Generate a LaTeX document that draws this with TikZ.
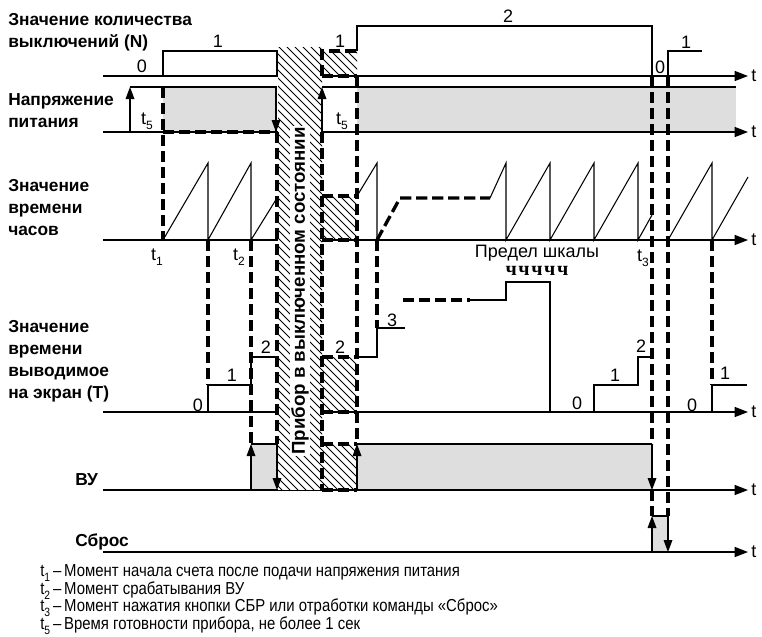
\documentclass[tikz,border=0pt]{standalone}
\usepackage{fontspec}
\setmainfont{Liberation Sans}
\newfontfamily\narrowfont[FakeStretch=0.86]{Liberation Sans}
\newfontfamily\serifb[LetterSpace=8]{Liberation Serif}
\usetikzlibrary{arrows.meta}
\newcommand\tsub[1]{t\raisebox{-0.28em}{\fontsize{9}{9}\selectfont #1}}
\newcommand\hatchbox[4]{%
  \begin{scope}
    \clip (#1,#2) rectangle (#3,#4);
    \foreach \c in {-520,-512,...,360} \draw[hl] ({\c},0) -- ({\c+636},636);
  \end{scope}}
\begin{document}
\begin{tikzpicture}[x=0.75pt,y=-0.75pt,
 axis/.style={line width=1pt,-{Triangle[length=10pt,width=7.5pt]}},
 sig/.style={line width=0.8pt},
 hl/.style={line width=0.55pt},
 dsh/.style={line width=2.5pt,dash pattern=on 8.5pt off 3.5pt},
 varrow/.style={line width=0.9pt,-{Triangle[length=9pt,width=6.5pt]}},
 lbl/.style={font=\fontsize{13}{16.5}\selectfont\bfseries,align=left,anchor=west,inner sep=0pt},
 num/.style={font=\fontsize{13.5}{14}\selectfont,inner sep=0pt},
 leg/.style={font=\narrowfont\fontsize{13}{14}\selectfont,anchor=west,inner sep=0pt},
 shade/.style={fill=black!13},
 ]
\useasboundingbox (0,0) rectangle (762,636);
% gray fills
\fill[shade] (163,87) rectangle (277,132);
\fill[shade] (357,87) rectangle (736,132);
\fill[shade] (251,444) rectangle (277,490);
\fill[shade] (357,444) rectangle (652,490);
\fill[shade] (652,516) rectangle (668,552);
% axes
\foreach \yy/\nm in {76/a,132/b,240/c,412/d,490/e,552/f}{
  \draw[axis] (103,\yy) -- (748,\yy);
  \node[num,anchor=west] (t\nm) at (751,\yy) {t};
}
% off-state band
\fill[white] (278,47) rectangle (322,490);
\hatchbox{278}{47}{322}{490}
% hatched boxes
\hatchbox{322}{51}{357}{76}
\hatchbox{322}{196}{357}{240}
\hatchbox{322}{357}{357}{412}
\hatchbox{322}{444}{357}{490}
% power
\draw[line width=1.8pt] (130,87) -- (277,87);
\draw[line width=1.8pt] (322,87) -- (736,87);
\draw[varrow] (130,132) -- (130,87);
\draw[varrow] (276,87) -- (276,132);
\draw[varrow] (322,132) -- (322,87);
\draw[dsh] (163,87) -- (163,240);
\draw[dsh] (163,132) -- (277,132);
% N signal
\draw[sig] (163,76) -- (163,51) -- (277,51) -- (277,76);
\draw[sig] (357,51) -- (357,26) -- (652,26) -- (652,76);
\draw[sig] (668,76) -- (668,51) -- (702,51);
\draw[dsh] (322,76) -- (322,51) -- (357,51);
\draw[dsh] (322,76) -- (357,76);
% clock
\draw[sig] (163,240) -- (208,163) -- (208,240) -- (251,163) -- (251,240) -- (277,198);
\draw[sig] (357,196) -- (377,163) -- (377,240);
\draw[dsh] (322,196) -- (357,196);
\draw[dsh] (322,240) -- (357,240);
\draw[dsh] (377,240) -- (400,198) -- (490,198);
\draw[sig] (490,198) -- (506,163) -- (506,240) -- (550,163) -- (550,240) -- (594,163) -- (594,240) -- (638,163) -- (638,240) -- (652,215);
\draw[sig] (668,240) -- (712,163) -- (712,240) -- (748,177);
% display
\draw[sig] (208,412) -- (208,385) -- (251,385) -- (251,357) -- (277,357);
\draw[dsh] (322,357) -- (357,357);
\draw[dsh] (322,412) -- (357,412);
\draw[sig] (357,357) -- (377,357) -- (377,328) -- (405,328);
\draw[dsh] (403,300) -- (470,300);
\draw[sig] (470,300) -- (506,300) -- (506,282) -- (550,282) -- (550,412);
\draw[sig] (594,412) -- (594,385) -- (638,385) -- (638,357) -- (652,357);
\draw[sig] (712,412) -- (712,385) -- (747,385);
% VU
\draw[sig] (251,444) -- (277,444);
\draw[varrow] (251,490) -- (251,444);
\draw[varrow] (277,444) -- (277,490);
\draw[dsh] (322,444) -- (357,444);
\draw[dsh] (322,490) -- (357,490);
\draw[sig] (357,444) -- (652,444);
\draw[varrow] (357,490) -- (357,444);
\draw[varrow] (652,444) -- (652,490);
% reset
\draw[sig] (652,516) -- (668,516);
\draw[varrow] (652,552) -- (652,516);
\draw[varrow] (668,516) -- (668,552);
% dashed verticals
\draw[dsh] (208,240) -- (208,385);
\draw[dsh] (251,240) -- (251,444);
\draw[dsh] (277,132) -- (277,444);
\draw[dsh] (322,132) -- (322,490);
\draw[dsh] (357,76) -- (357,444);
\draw[dsh] (377,240) -- (377,328);
\draw[dsh] (652,76) -- (652,444);
\draw[dsh] (652,490) -- (652,516);
\draw[dsh] (668,76) -- (668,516);
\draw[dsh] (712,240) -- (712,385);
% band text
\node[rotate=90,fill=white,inner sep=1pt,font=\fontsize{14}{15}\selectfont\bfseries] (off) at (300,291) {Прибор в выключенном состоянии};
% left labels
\node[lbl] (lN) at (8,32) {Значение количества\\выключений (N)};
\node[lbl] (lU) at (8,111) {Напряжение\\питания};
\node[lbl] (lC) at (8,208) {Значение\\времени\\часов};
\node[lbl] (lT) at (8,361) {Значение\\времени\\выводимое\\на экран (T)};
\node[lbl] (lV) at (75,480) {ВУ};
\node[lbl] (lR) at (75,542) {Сброс};
% numbers N
\node[num] (n1) at (142,66) {0};
\node[num] (n2) at (218,41) {1};
\node[num] (n3) at (340,41) {1};
\node[num] (n4) at (508,16) {2};
\node[num] (n5) at (660,67) {0};
\node[num] (n6) at (686,42) {1};
% t5
\node[num] (t5a) at (147,121) {\tsub{5}};
\node[num] (t5b) at (342,121) {\tsub{5}};
% clock t labels
\node[num] (t1) at (157,257) {\tsub{1}};
\node[num] (t2) at (239,257) {\tsub{2}};
\node[num] (t3) at (643,258) {\tsub{3}};
\node[num] (pr) at (537,253) {Предел шкалы};
\node[font=\serifb\bfseries\fontsize{15}{15}\selectfont,inner sep=0pt] (ch) at (537,271) {ччччч};
% display numbers
\node[num] (d0) at (198,405) {0};
\node[num] (d1) at (232,375) {1};
\node[num] (d2) at (266,347) {2};
\node[num] (d3) at (340,347) {2};
\node[num] (d4) at (392,320) {3};
\node[num] (d5) at (577,403) {0};
\node[num] (d6) at (615,375) {1};
\node[num] (d7) at (641,346) {2};
\node[num] (d8) at (692,405) {0};
\node[num] (d9) at (725,373) {1};
% legend
\node[leg] (g1) at (40,573) {\tsub{1}\,–\,Момент начала счета после подачи напряжения питания};
\node[leg] (g2) at (40,591) {\tsub{2}\,–\,Момент срабатывания ВУ};
\node[leg] (g3) at (40,608) {\tsub{3}\,–\,Момент нажатия кнопки СБР или отработки команды «Сброс»};
\node[leg] (g4) at (40,626) {\tsub{5}\,–\,Время готовности прибора, не более 1 сек};
\end{tikzpicture}
\end{document}
